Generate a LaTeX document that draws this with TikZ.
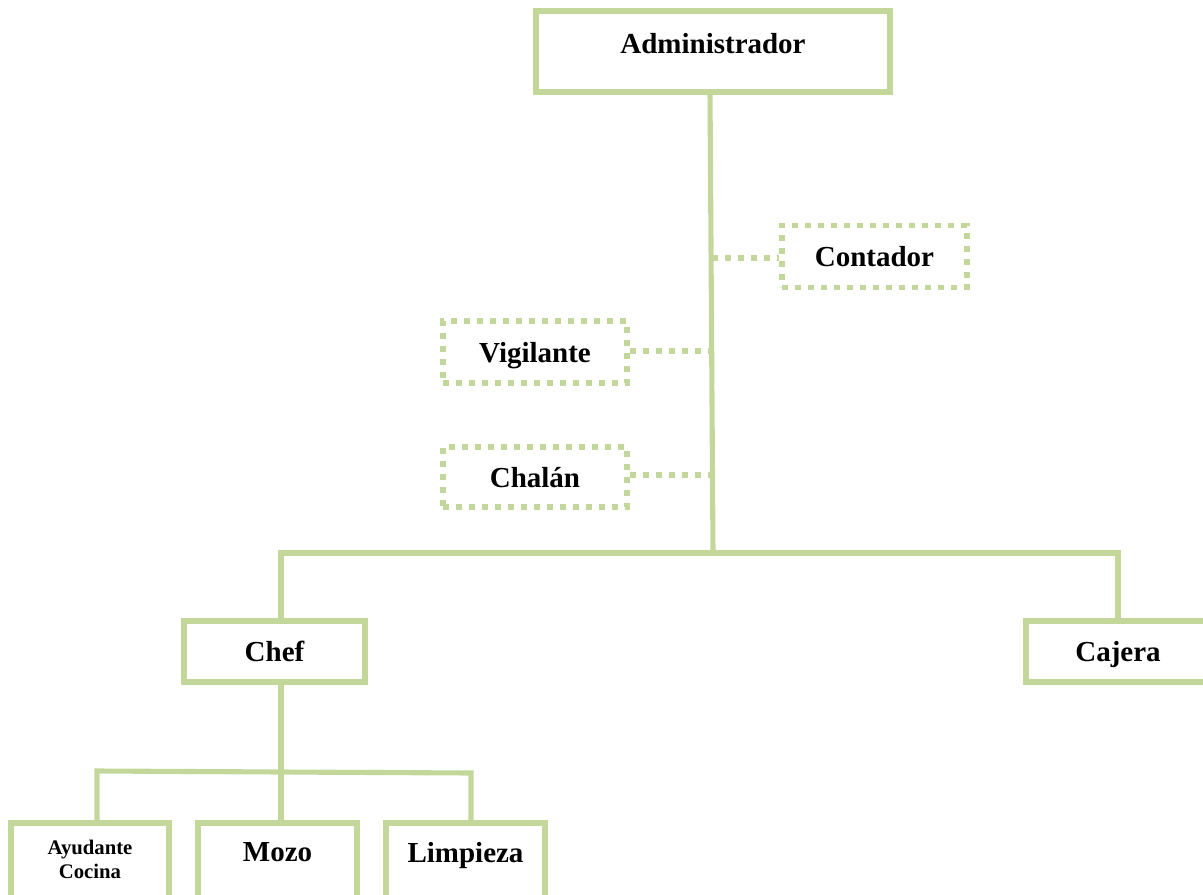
\documentclass[tikz,border=0pt]{standalone}
\usepackage{fontspec}
\setmainfont{Liberation Serif}
\definecolor{boxgreen}{RGB}{196,215,155}
\tikzset{
  orgbox/.style={rectangle, draw=boxgreen, line width=3.4pt, fill=white, inner sep=0pt,
    text depth=0pt, font=\bfseries\fontsize{16.5}{19}\selectfont},
  dotbox/.style={orgbox, dash pattern=on 0.12cm off 0.14cm},
  link/.style={draw=boxgreen, line width=2.9pt},
  dotlink/.style={draw=boxgreen, line width=3.4pt, dash pattern=on 0.12cm off 0.14cm}
}
\begin{document}
\begin{tikzpicture}[x=0.02cm, y=-0.02cm]
\useasboundingbox (0,0) rectangle (1203,895);
\clip (0,0) rectangle (1203,895);

% trunk and branch points
\coordinate (trunkTop) at (710,92);
\coordinate (barMid) at (713,553);
\coordinate (barL) at (281,553);
\coordinate (barR) at (1118,553);
\coordinate (subMid) at (281,772);
\coordinate (subL) at (97,771);
\coordinate (subR) at (471,773);
\coordinate (jCont) at (712,258);
\coordinate (jVig) at (711,351);
\coordinate (jCha) at (711,475);

% solid hierarchy lines
\draw[link] (trunkTop) -- (barMid);
\draw[link] (barL |- 0,618) -- (barL) -- (barMid) -- (barR) -- (barR |- 0,618);
\draw[link] (281,682) -- (subMid);
\draw[link] (subL |- 0,823) -- (subL) -- (subMid) -- (subR) -- (subR |- 0,823);
\draw[link] (subMid) -- (281,823);

% boxes
\node[orgbox, minimum width=7.08cm, minimum height=1.62cm, text depth=0.34cm] (admin) at (713,51.5) {Administrador};
\node[dotbox, minimum width=3.7cm, minimum height=1.24cm] (contador) at (874.5,256.5) {Contador};
\node[dotbox, minimum width=3.68cm, minimum height=1.24cm] (vigilante) at (535,352) {Vigilante};
\node[dotbox, minimum width=3.68cm, minimum height=1.2cm] (chalan) at (535,477) {Chalán};
\node[orgbox, minimum width=3.62cm, minimum height=1.22cm] (chef) at (274.5,651.5) {Chef};
\node[orgbox, minimum width=3.68cm, minimum height=1.22cm] (cajera) at (1118,651.5) {Cajera};
\node[orgbox, minimum width=3.16cm, minimum height=1.64cm, align=center,
      font=\bfseries\fontsize{11.8}{13.5}\selectfont, text depth=0.2cm] (ayudante) at (90,864) {Ayudante\\Cocina};
\node[orgbox, minimum width=3.18cm, minimum height=1.64cm, text depth=0.48cm] (mozo) at (277.5,864) {Mozo};
\node[orgbox, minimum width=3.18cm, minimum height=1.64cm, text depth=0.48cm] (limpieza) at (465.5,864) {Limpieza};

% dotted staff links
\draw[dotlink] (jCont) -- (contador.west |- jCont);
\draw[dotlink] (vigilante.east |- jVig) -- (jVig);
\draw[dotlink] (chalan.east |- jCha) -- (jCha);
\end{tikzpicture}
\end{document}
